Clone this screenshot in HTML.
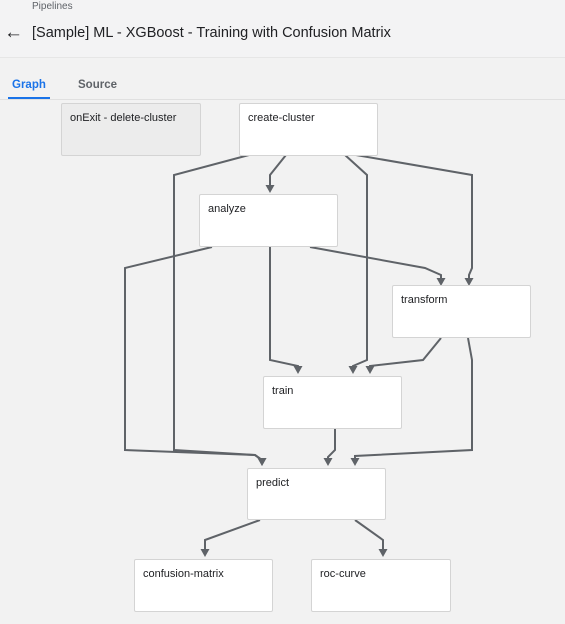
<!DOCTYPE html>
<html><head><meta charset="utf-8"><style>
html,body{margin:0;padding:0;width:565px;height:624px;overflow:hidden;background:#f2f2f2;font-family:"Liberation Sans",Arial,sans-serif;}
.top{position:absolute;left:0;top:0;width:565px;height:57px;background:#f3f3f4;border-bottom:1px solid #e6e6e6;}
.crumb{position:absolute;left:32px;top:1px;font-size:10px;color:#5f6368;}
.back{position:absolute;left:4px;top:22px;font-size:19px;font-weight:bold;color:#202124;}
.title{position:absolute;left:32px;top:25px;font-size:14.5px;color:#202124;}
.tab{position:absolute;top:79px;font-size:11.5px;font-weight:bold;}
.ul{position:absolute;left:8px;top:97px;width:42px;height:2px;background:#1a73e8;}
.line{position:absolute;left:0;top:99px;width:565px;height:1px;background:#e0e0e0;}
.n{position:absolute;background:#fff;border:1px solid #d4d4d4;border-radius:2px;box-sizing:border-box;font-size:11px;color:#202124;padding:8px 0 0 8px;}
</style></head><body>
<div class="top"><div class="crumb">Pipelines</div><div class="back">&#8592;</div><div class="title">[Sample] ML - XGBoost - Training with Confusion Matrix</div></div>
<div class="tab" style="left:12px;color:#1a73e8">Graph</div>
<div class="tab" style="left:78px;color:#5f6368">Source</div>
<div class="line"></div><div class="ul"></div>
<svg width="565" height="624" style="position:absolute;left:0;top:0" fill="none" stroke="#5f6368" stroke-width="2">
<defs><marker id="a" markerWidth="9" markerHeight="9" refX="5" refY="4.5" orient="auto" markerUnits="userSpaceOnUse"><path d="M0,0L8,4.5L0,9z" fill="#5f6368" stroke="none"/></marker></defs>
<g marker-end="url(#a)">
<polyline points="249,155 174,175 174,450 255,455 262,460 262,463"/>
<polyline points="286,155 270,175 270,187 270,190"/>
<polyline points="345,155 367,175 367,360 353,366 353,371"/>
<polyline points="356,155 472,175 472,268 469,275 469,283"/>
<polyline points="212,247 125,268 125,450 255,455 262,460 262,463"/>
<polyline points="270,247 270,360 298,366 298,371"/>
<polyline points="310,247 425,268 441,275 441,283"/>
<polyline points="441,338 423,360 370,366 370,371"/>
<polyline points="468,338 472,360 472,450 355,456 355,463"/>
<polyline points="335,428 335,450 328,457 328,463"/>
<polyline points="260,520 205,540 205,554"/>
<polyline points="355,520 383,540 383,554"/>
</g></svg>
<div class="n" style="left:61px;top:103px;width:140px;height:53px;background:#ececec;">onExit - delete-cluster</div>
<div class="n" style="left:239px;top:103px;width:139px;height:53px;">create-cluster</div>
<div class="n" style="left:199px;top:194px;width:139px;height:53px;">analyze</div>
<div class="n" style="left:392px;top:285px;width:139px;height:53px;">transform</div>
<div class="n" style="left:263px;top:376px;width:139px;height:53px;">train</div>
<div class="n" style="left:247px;top:468px;width:139px;height:52px;">predict</div>
<div class="n" style="left:134px;top:559px;width:139px;height:53px;">confusion-matrix</div>
<div class="n" style="left:311px;top:559px;width:140px;height:53px;">roc-curve</div>
</body></html>
